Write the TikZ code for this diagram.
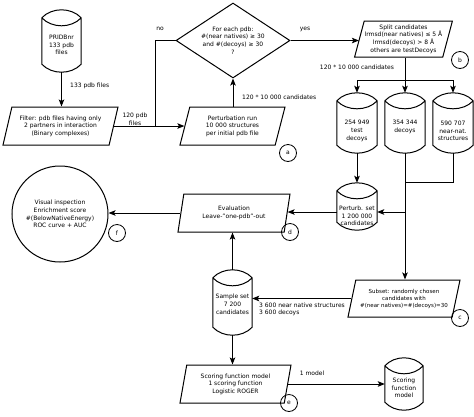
\documentclass[tikz,border=0pt]{standalone}
\usepackage{fontspec}
\setmainfont{DejaVu Sans}
\usetikzlibrary{shapes.geometric,arrows.meta,calc}
\newcommand{\cylout}[1]{%
  \draw[ln] let \p1=(#1.north west), \p2=(#1.south east) in
   (\x1,\y1-8pt) .. controls (\x1+10pt,\y1+2.67pt) and (\x2-10pt,\y1+2.67pt) .. (\x2,\y1-8pt)
   (\x1,\y1-8pt) .. controls (\x1+10pt,\y1-18.67pt) and (\x2-10pt,\y1-18.67pt) .. (\x2,\y1-8pt)
   (\x1,\y1-8pt) -- (\x1,\y2+8pt) .. controls (\x1+10pt,\y2-2.67pt) and (\x2-10pt,\y2-2.67pt) .. (\x2,\y2+8pt) -- (\x2,\y1-8pt);}
\begin{document}
\begin{tikzpicture}[x=1pt,y=-1pt,
  every node/.style={font=\fontsize{6}{7.6}\selectfont, inner sep=0.5pt, align=center},
  ln/.style={line width=1pt},
  arr/.style={ln,-{Stealth[length=7pt,width=5.5pt,inset=1.5pt]}},
  para/.style n args={2}{trapezium, draw, ln, trapezium left angle=#1, trapezium right angle=#2, trapezium stretches body},
  cylbox/.style 2 args={minimum width=#1, minimum height=#2, inner sep=0pt},
  letter/.style={circle, draw, line width=0.8pt, minimum size=17pt, inner sep=0pt},
  lbl/.style={inner sep=0pt}
]
\useasboundingbox (0,0) rectangle (474,416);

% ---- nodes
\node[cylbox={39pt}{62pt}] (pri) at (61.5,41) {\mbox{}\\[4.5pt]PRIDBnr\\133 pdb\\files};
\node[para={68}{112}, minimum width=115pt, minimum height=38pt] (filter) at (60.5,126) {Filter: pdb files having only\\2 partners in interaction\\(Binary complexes)};
\node[para={66}{114}, minimum width=105pt, minimum height=38pt] (pert) at (232.5,126) {Perturbation run\\10 000 structures\\per initial pdb file};
\node[diamond, draw, ln, shape aspect=1.5, minimum width=114pt, minimum height=75pt, inner sep=0pt] (dia) at (233,40.5) {For each pdb:\\\#(near natives) ≥ 30\\and \#(decoys) ≥ 30\\?};
\node[para={72}{108}, minimum width=97pt, minimum height=36pt] (split) at (403.5,39) {Split candidates\\lrmsd(near natives) ≤ 5 Å\\lrmsd(decoys) > 8 Å\\others are testDecoys};
\node[cylbox={40pt}{60pt}] (cyla) at (357,123) {\mbox{}\\[12.5pt]254 949\\test\\decoys};
\node[cylbox={40pt}{60pt}] (cylb) at (405,123) {\mbox{}\\[4.5pt]354 344\\decoys};
\node[cylbox={40pt}{60pt}] (cylc) at (453,123) {\mbox{}\\[12.5pt]590 707\\near-nat.\\structures};
\node[cylbox={40pt}{47pt}] (pset) at (357,206.5) {\mbox{}\\[15.5pt]Perturb. set\\1 200 000\\candidates};
\node[para={68}{112}, minimum width=112pt, minimum height=38pt] (eval) at (234,213) {Evaluation\\Leave-"one-pdb"-out};
\node[circle, draw, ln, minimum size=96pt, inner sep=0pt] (vis) at (60,214) {Visual inspection\\Enrichment score\\\#(BelowNativeEnergy)\\ROC curve + AUC};
\node[cylbox={39pt}{65pt}] (sample) at (232.5,302.5) {\mbox{}\\[0.5pt]Sample set\\7 200\\candidates};
\node[para={69}{111}, minimum width=112pt, minimum height=37pt, font=\fontsize{5.5}{7}\selectfont] (subset) at (404,298.5) {Subset: randomly chosen\\candidates with\\\#(near natives)=\#(decoys)=30};
\node[para={73}{107}, minimum width=111pt, minimum height=38pt] (scor) at (235.5,384) {Scoring function model\\1 scoring function\\Logistic ROGER};
\node[cylbox={38pt}{52pt}] (scyl) at (404,384) {\mbox{}\\[4.5pt]Scoring\\function\\model};

\foreach \nm in {pri,cyla,cylb,cylc,pset,sample,scyl}{\cylout{\nm}}

% ---- letters
\node[letter] (la) at (288,153) {a};
\node[letter] (lb) at (460,60) {b};
\node[letter] (lc) at (460,318) {c};
\node[letter] (ld) at (290,232) {d};
\node[letter] (le) at (289,403) {e};
\node[letter] (lf) at (117,233) {f};

% ---- labels
\node[lbl, anchor=west] (t1) at (70,86) {133 pdb files};
\node[lbl] (t2) at (135,119) {120 pdb\\files};
\node[lbl] (t3) at (160,29) {no};
\node[lbl, anchor=west] (t4) at (242,97) {120 * 10 000 candidates};
\node[lbl] (t5) at (305,29) {yes};
\node[lbl] (t6) at (357,67) {120 * 10 000 candidates};
\node[lbl, anchor=north west, align=left] (t7) at (259,302.5) {3 600 near native structures\\3 600 decoys};
\node[lbl] (t8) at (312,373) {1 model};

% ---- coordinates
\coordinate (j1) at (155,126);
\coordinate (d1) at (405,80);
\coordinate (d2) at (405,182);
\coordinate (d3) at (405,212);

% ---- connectors
\draw[arr] (pri.south) -- (pri.south |- filter.north);
\draw[arr] (filter.east) -- (filter.east -| pert.west);
\draw[ln] (j1) |- (dia.west);
\draw[arr] (pert.north -| dia.south) -- (dia.south);
\draw[arr] (dia.east) -- (dia.east -| split.west);
\draw[ln] (split.south -| d1) -- (d1);
\draw[arr] (d1) -| (cyla.north);
\draw[arr] (d1) -- (cylb.north);
\draw[arr] (d1) -| (cylc.north);
\draw[arr] (cyla.south) -- (pset.north);
\draw[arr] (cylb.south) -- (cylb.south |- subset.north);
\draw[ln] (cylc.south) |- (d2);
\draw[arr] (d3) -- (d3 -| pset.east);
\draw[arr] (d3 -| pset.west) -- (d3 -| eval.east);
\draw[arr] (eval.west) -- (eval.west -| vis.east);
\draw[arr] (sample.north) -- (sample.north |- eval.south);
\draw[arr] (subset.west) -- (subset.west -| sample.east);
\draw[arr] (sample.south) -- (sample.south |- scor.north);
\draw[arr] (scor.east) -- (scor.east -| scyl.west);
\end{tikzpicture}
\end{document}
